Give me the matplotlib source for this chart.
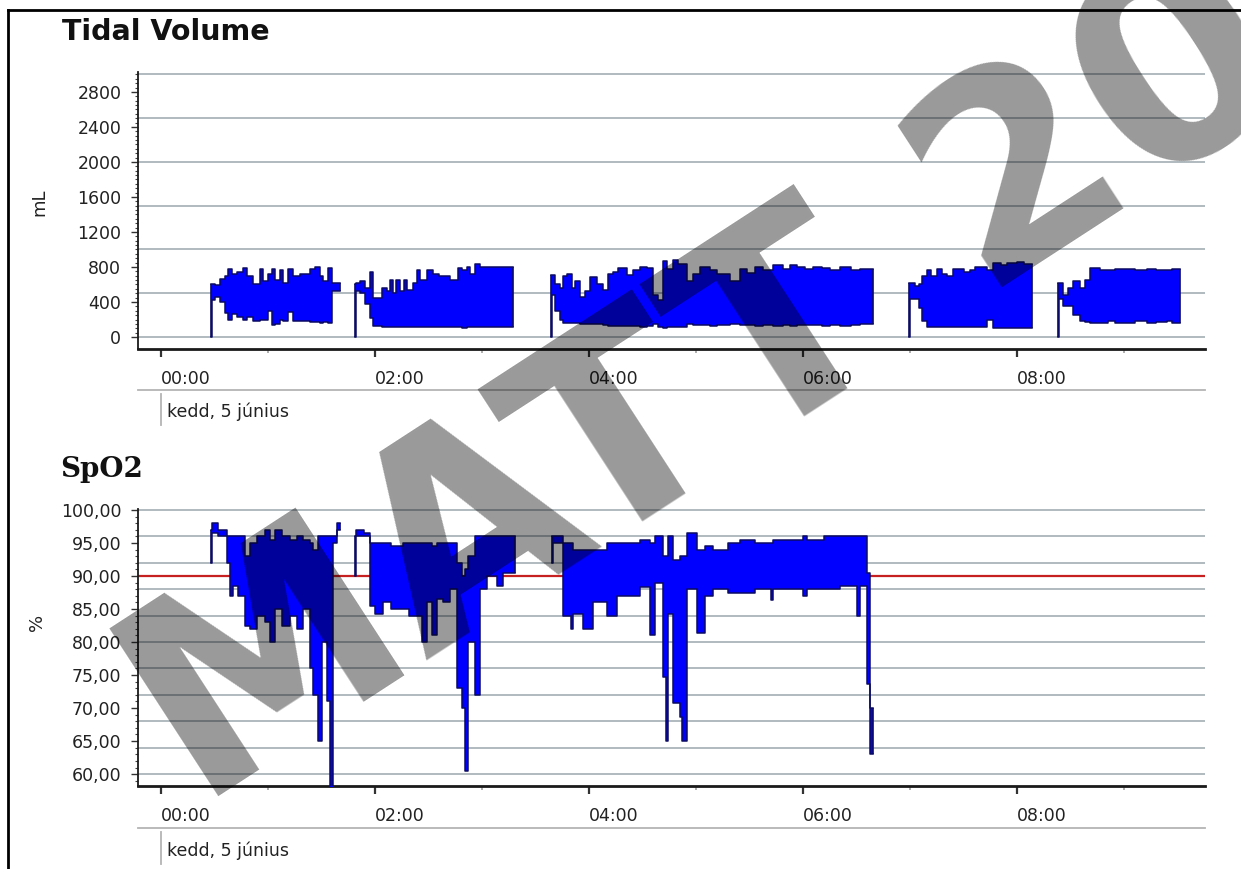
import numpy as np
import matplotlib
matplotlib.use("Agg")
import matplotlib.pyplot as plt
from matplotlib.lines import Line2D
from matplotlib.ticker import FixedLocator

nan = np.nan

# ---------------- data (hours after 00:00, envelope low / high) ----------------
tv_time = [0.464, 0.476, 0.505, 0.551, 0.598, 0.629, 0.660, 0.707, 0.769, 0.801, 0.863, 0.925, 0.956,
           1.003, 1.034, 1.065, 1.112, 1.143, 1.190, 1.237, 1.299, 1.393, 1.439, 1.486, 1.517, 1.564,
           1.595, 1.673,
           1.813, 1.825, 1.860, 1.907, 1.953, 1.984, 2.062, 2.109, 2.140, 2.170, 2.200, 2.233, 2.270,
           2.300, 2.358, 2.390, 2.421, 2.483, 2.545, 2.600, 2.639, 2.700, 2.732, 2.779, 2.810, 2.857,
           2.888, 2.935, 2.981, 3.293,
           3.642, 3.652, 3.682, 3.729, 3.760, 3.791, 3.838, 3.869, 3.916, 3.963, 4.009, 4.072, 4.134,
           4.181, 4.227, 4.274, 4.352, 4.414, 4.477, 4.539, 4.601, 4.648, 4.695, 4.726, 4.788, 4.835,
           4.913, 4.975, 5.037, 5.131, 5.193, 5.318, 5.411, 5.474, 5.550, 5.629, 5.720, 5.816, 5.880,
           5.941, 6.020, 6.097, 6.180, 6.252, 6.350, 6.450, 6.533, 6.651,
           6.994, 7.004, 7.047, 7.080, 7.109, 7.156, 7.200, 7.249, 7.300, 7.343, 7.400, 7.436, 7.500,
           7.561, 7.610, 7.654, 7.717, 7.779, 7.850, 7.904, 8.000, 8.070, 8.137,
           8.386, 8.396, 8.433, 8.480, 8.526, 8.589, 8.640, 8.682, 8.776, 8.850, 8.920, 9.025, 9.100,
           9.212, 9.300, 9.400, 9.450, 9.523]
tv_low = [0, 420, 460, 400, 280, 190, 260, 230, 200, 230, 180, 200, 190,
          300, 140, 150, 200, 180, 290, 180, 180, 170, 170, 160, 170, 160,
          520, nan,
          0, 520, 500, 380, 220, 130, 120, 120, 115, 120, 120, 115, 120,
          110, 115, 110, 115, 110, 110, 110, 110, 110, 110, 110, 105, 110,
          110, 110, 110, nan,
          0, 480, 300, 200, 160, 160, 160, 160, 150, 150, 150, 150, 140,
          130, 130, 130, 130, 130, 120, 125, 150, 120, 100, 110, 110, 110,
          150, 140, 140, 130, 140, 150, 140, 140, 130, 140, 130, 140, 130,
          140, 135, 140, 130, 140, 130, 140, 150, nan,
          0, 440, 440, 330, 180, 120, 120, 120, 120, 120, 120, 120, 120,
          120, 120, 120, 200, 100, 100, 100, 100, 100, nan,
          0, 430, 360, 360, 250, 180, 170, 160, 160, 180, 160, 160, 180,
          160, 170, 180, 160, nan]
tv_high = [600, 610, 590, 660, 700, 780, 720, 740, 790, 700, 600, 780, 640,
           720, 780, 650, 770, 620, 780, 700, 720, 780, 800, 700, 640, 790,
           620, nan,
           600, 620, 640, 560, 740, 450, 560, 520, 650, 500, 650, 520, 650,
           540, 620, 760, 650, 760, 720, 700, 700, 650, 650, 790, 760, 800,
           720, 830, 800, nan,
           710, 710, 600, 560, 700, 720, 560, 640, 460, 520, 680, 600, 540,
           720, 740, 790, 710, 770, 800, 790, 480, 420, 870, 780, 880, 830,
           640, 720, 800, 760, 720, 640, 780, 730, 800, 760, 820, 780, 820,
           800, 780, 800, 790, 760, 800, 760, 780, nan,
           620, 620, 580, 600, 700, 760, 700, 780, 720, 700, 780, 780, 740,
           760, 800, 800, 760, 840, 820, 840, 860, 830, nan,
           620, 620, 480, 560, 640, 560, 650, 790, 760, 760, 780, 780, 760,
           780, 760, 760, 780, nan]

spo2_time = [0.467, 0.475, 0.536, 0.567, 0.614, 0.645, 0.676, 0.723, 0.785, 0.832, 0.894, 0.972,
             1.019, 1.065, 1.128, 1.206, 1.268, 1.330, 1.393, 1.420, 1.470, 1.501, 1.548, 1.579,
             1.604, 1.642, 1.673,
             1.813, 1.823, 1.900, 1.953, 2.000, 2.078, 2.150, 2.265, 2.320, 2.389, 2.440, 2.483,
             2.530, 2.576, 2.640, 2.701, 2.763, 2.810, 2.841, 2.872, 2.935, 2.981, 3.044, 3.137,
             3.199, 3.308,
             3.651, 3.661, 3.760, 3.830, 3.854, 3.947, 4.040, 4.165, 4.259, 4.352, 4.477, 4.570,
             4.617, 4.695, 4.715, 4.742, 4.788, 4.850, 4.870, 4.913, 5.006, 5.084, 5.162, 5.300,
             5.411, 5.550, 5.700, 5.723, 5.850, 6.000, 6.034, 6.200, 6.346, 6.500, 6.530, 6.595,
             6.626, 6.657]
spo2_low = [92, 96.5, 96, 96, 92, 87, 88.5, 87, 82.5, 82, 84, 83,
            80, 85, 82.5, 84, 82, 85, 76, 72, 65, 80, 71, 58,
            95, 97, nan,
            90, 96, 96, 85.5, 84.3, 86, 85, 85, 84, 84, 80, 86,
            81, 86.5, 86, 88, 73, 70, 60.5, 80, 72, 88, 90, 88.5,
            90.5, nan,
            92, 95, 84, 82, 84.3, 82, 86, 84, 87, 87, 88.4, 81,
            89, 74.7, 65, 84.3, 70.7, 68.7, 65, 88, 81.3, 87, 88, 87.5,
            87.5, 88, 86.4, 88, 88, 87, 88, 88, 88.5, 84, 88.5, 73.7,
            63, nan]
spo2_high = [97, 98, 97, 97, 96, 96, 96, 96, 93, 95, 96, 97,
             95.5, 97, 96, 95.5, 96, 95.5, 95, 94, 96, 96, 96, 96,
             96, 98, nan,
             96, 97, 96.5, 95, 95, 95, 94.5, 95, 95, 95, 95, 95,
             94.5, 95, 95, 95, 92, 90, 91, 93, 96, 96, 96, 96,
             96, nan,
             96, 96, 95, 95, 94, 94, 94, 95, 95, 95, 95.5, 95,
             96, 93, 93, 96, 92.5, 93, 93, 96.5, 94, 94.5, 94, 95,
             95.5, 95, 95, 95.5, 95.5, 96, 95.5, 96, 96, 96, 96, 90.5,
             70, nan]

spo2_limit = 90
x_ticks = [0, 2, 4, 6, 8]
x_tick_labels = ["00:00", "02:00", "04:00", "06:00", "08:00"]
tv_ticks = [0, 400, 800, 1200, 1600, 2000, 2400, 2800]
spo2_ticks = [60, 65, 70, 75, 80, 85, 90, 95, 100]
spo2_tick_labels = ["60,00", "65,00", "70,00", "75,00", "80,00", "85,00", "90,00", "95,00", "100,00"]
date_label = "kedd, 5 június"

# ---------------- figure ----------------
W, H = 1241, 869
fig = plt.figure(figsize=(W / 100, H / 100), dpi=100)
fig.patch.set_facecolor("white")
plt.rcParams['font.family'] = ['DejaVu Sans']


def fx(px):
    return px / W


def fy(py):
    return 1 - py / H


FILL = "#0000ff"
EDGE = "#0b0b62"
GRID = "#9ba7ae"


def style_axes(ax):
    for s in ("top", "right"):
        ax.spines[s].set_visible(False)
    ax.spines["left"].set_linewidth(1.3)
    ax.spines["left"].set_color("#1a1a1a")
    ax.spines["bottom"].set_linewidth(2.0)
    ax.spines["bottom"].set_color("#1a1a1a")
    ax.set_xlim(-0.215, 9.757)
    ax.xaxis.set_major_locator(FixedLocator(x_ticks))
    ax.set_xticklabels(x_tick_labels, fontsize=12.5, color="#222222")
    for lab in ax.get_xticklabels():
        lab.set_horizontalalignment("left")
    ax.xaxis.set_minor_locator(FixedLocator([1, 3, 5, 7, 9]))
    ax.tick_params(axis="x", which="major", length=6, width=1.6, color="#333333", pad=9)
    ax.tick_params(axis="x", which="minor", length=3, width=1.2, color="#a0a0a0")
    ax.tick_params(axis="y", which="major", length=5, width=1.0, color="#333333", pad=7,
                   labelsize=12.5, labelcolor="#222222")
    ax.tick_params(axis="y", which="minor", length=2.5, width=0.8, color="#444444")
    ax.set_facecolor("white")


def draw_band(ax, t, lo, hi):
    t = np.asarray(t, float)
    lo = np.asarray(lo, float)
    hi = np.asarray(hi, float)
    ends = np.where(np.isnan(lo))[0]
    start = 0
    for e in ends:
        # a segment runs from t[start] to t[e]; the NaN row only marks its end time
        st = t[start:e + 1]
        sl = np.r_[lo[start:e], lo[e - 1]]
        sh = np.r_[hi[start:e], hi[e - 1]]
        ax.fill_between(st, sl, sh, step="post", color=FILL, lw=0, zorder=3)
        ax.step(st, sh, where="post", color=EDGE, lw=1.1, zorder=4)
        ax.step(st, sl, where="post", color=EDGE, lw=1.1, zorder=4)
        ax.vlines([st[0]], [sl[0]], [sh[0]], color=EDGE, lw=1.2, zorder=4)
        ax.vlines([st[-1]], [sl[-1]], [sh[-1]], color=EDGE, lw=1.2, zorder=4)
        start = e + 1


# ---------- Tidal Volume ----------
ax1 = fig.add_axes([fx(138), fy(349), fx(1205) - fx(138), fy(72) - fy(349)])
style_axes(ax1)
ax1.set_ylim(-137, 3028)
ax1.yaxis.set_major_locator(FixedLocator(tv_ticks))
ax1.yaxis.set_minor_locator(FixedLocator(np.arange(0, 3001, 50)))
ax1.set_yticklabels([str(v) for v in tv_ticks])
for g in np.arange(0, 3001, 500):
    ax1.axhline(g, color=GRID, lw=1.1, zorder=1)
draw_band(ax1, tv_time, tv_low, tv_high)
ax1.set_ylabel("mL", fontsize=13, color="#222222")
ax1.yaxis.set_label_coords(-0.084, 0.53)

# ---------- SpO2 ----------
ax2 = fig.add_axes([fx(138), fy(786), fx(1205) - fx(138), fy(509) - fy(786)])
style_axes(ax2)
ax2.set_ylim(58.2, 100.15)
ax2.yaxis.set_major_locator(FixedLocator(spo2_ticks))
ax2.yaxis.set_minor_locator(FixedLocator(np.arange(58, 101, 1)))
ax2.set_yticklabels(spo2_tick_labels)
for g in np.arange(60, 101, 4):
    ax2.axhline(g, color=GRID, lw=1.1, zorder=1)
ax2.axhline(spo2_limit, color="#c62020", lw=1.6, zorder=2)
draw_band(ax2, spo2_time, spo2_low, spo2_high)
ax2.set_ylabel("%", fontsize=13, color="#222222")
ax2.yaxis.set_label_coords(-0.086, 0.59)

# ---------- titles ----------
fig.text(fx(62), fy(32), "Tidal Volume", fontsize=20.5, fontweight="bold",
         ha="left", va="center", color="#111111")
fig.text(fx(60), fy(470), "SpO2", fontsize=20, fontweight="bold", family="DejaVu Serif",
         ha="left", va="center", color="#111111")

# ---------- date rows ----------
for line_y, bar_top, bar_bot, text_y in [(390, 394, 425, 412), (828, 832, 864, 851)]:
    fig.add_artist(Line2D([fx(138), fx(1205)], [fy(line_y), fy(line_y)], color="#b4b4b4", lw=1.3,
                          transform=fig.transFigure))
    fig.add_artist(Line2D([fx(161), fx(161)], [fy(bar_top), fy(bar_bot)], color="#b4b4b4", lw=1.3,
                          transform=fig.transFigure))
    fig.text(fx(167), fy(text_y), date_label, fontsize=12.5, ha="left", va="center", color="#222222")

# ---------- outer border ----------
fig.add_artist(Line2D([fx(8), fx(1241)], [fy(10), fy(10)], color="black", lw=2,
                      transform=fig.transFigure))
fig.add_artist(Line2D([fx(8), fx(8)], [fy(10), fy(869)], color="black", lw=2,
                      transform=fig.transFigure))

# ---------- watermark ----------
fig.text(fx(198), fy(810), "MATT 20", rotation=33, rotation_mode="anchor", ha="left",
         va="baseline", fontsize=197, fontweight="bold", family="DejaVu Sans",
         color="black", alpha=0.40, zorder=20)

fig.savefig("out.png", dpi=100)
